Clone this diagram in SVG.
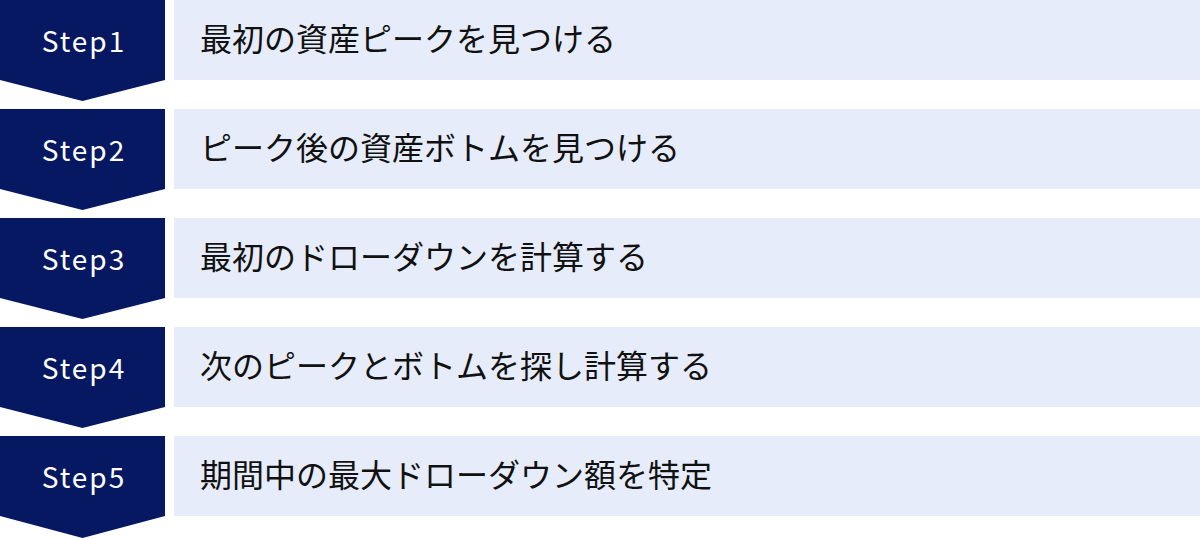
<svg xmlns="http://www.w3.org/2000/svg" width="1200" height="538" viewBox="0 0 1200 538">
<style>
.chev{fill:#061862}
.bar{fill:#e6ecf9}
.st{font-family:"Noto Sans CJK JP","Noto Sans",sans-serif;font-size:28px;fill:#ffffff;text-anchor:middle;letter-spacing:2px}
.jp{font-family:"Noto Sans CJK JP","Noto Sans",sans-serif;font-size:32px;fill:#111111}
</style>
<rect width="1200" height="538" fill="#ffffff"/>
<g id="step1">
<path class="chev" d="M0 0H165V80L82.5 101L0 80Z"/>
<rect class="bar" x="174" y="0" width="1026" height="80"/>
<text class="st" x="84" y="52">Step1</text>
<text class="jp" x="200" y="51">最初の資産ピークを見つける</text>
</g>
<g id="step2">
<path class="chev" d="M0 109H165V189L82.5 210L0 189Z"/>
<rect class="bar" x="174" y="109" width="1026" height="80"/>
<text class="st" x="84" y="161">Step2</text>
<text class="jp" x="200" y="160">ピーク後の資産ボトムを見つける</text>
</g>
<g id="step3">
<path class="chev" d="M0 218H165V298L82.5 319L0 298Z"/>
<rect class="bar" x="174" y="218" width="1026" height="80"/>
<text class="st" x="84" y="270">Step3</text>
<text class="jp" x="200" y="269">最初のドローダウンを計算する</text>
</g>
<g id="step4">
<path class="chev" d="M0 327H165V407L82.5 428L0 407Z"/>
<rect class="bar" x="174" y="327" width="1026" height="80"/>
<text class="st" x="84" y="379">Step4</text>
<text class="jp" x="200" y="378">次のピークとボトムを探し計算する</text>
</g>
<g id="step5">
<path class="chev" d="M0 436H165V516L82.5 538L0 516Z"/>
<rect class="bar" x="174" y="436" width="1026" height="80"/>
<text class="st" x="84" y="488">Step5</text>
<text class="jp" x="200" y="487">期間中の最大ドローダウン額を特定</text>
</g>
<g id="connectors"></g>
</svg>
